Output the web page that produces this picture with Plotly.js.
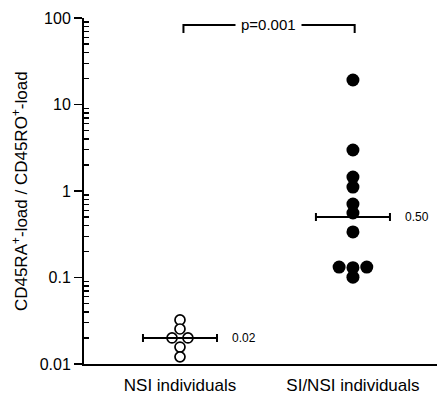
<!DOCTYPE html>
<html>
<head>
<meta charset="utf-8">
<script src="https://cdn.plot.ly/plotly-3.0.1.min.js"></script>
<style>html,body{margin:0;padding:0;background:#fff;}</style>
</head>
<body>
<div id="chart" style="width:438px;height:401px;"></div>
<script>
// Categories
var categories = ['NSI individuals', 'SI/NSI individuals'];
// NSI individuals (open circles)
var nsiValues = [0.0323, 0.0254, 0.020, 0.020, 0.0157, 0.0121];
var nsiJitter = [0, 0, -0.046, 0.046, 0, 0];
// SI/NSI individuals (filled circles)
var siValues = [19.2, 2.98, 1.45, 1.11, 0.707, 0.557, 0.336, 0.132, 0.130, 0.132, 0.101];
var siJitter = [0, 0, 0, 0, 0, 0, 0, -0.08, 0, 0.08, 0];
// Geometric means
var meanValues = [0.02, 0.50];
var meanLabels = ['0.02', '0.50'];
var pLabel = 'p=0.001';
var yTickVals = [0.01, 0.1, 1, 10, 100];
var yTickText = ['0.01', '0.1', '1', '10', '100'];

// minor tick positions (2..9 within each decade)
var minorVals = [];
[0.01, 0.1, 1, 10].forEach(function(d){ for (var k = 2; k <= 9; k++) minorVals.push(d * k); });

var font = 'Arial, "Liberation Sans", Helvetica, sans-serif';

var traces = [
  {
    x: nsiValues.map(function(v, i){ return 0 + nsiJitter[i]; }),
    y: nsiValues,
    mode: 'markers', type: 'scatter',
    marker: {symbol: 'circle', size: 10, color: 'white', line: {color: 'black', width: 1.7}},
    cliponaxis: false, hoverinfo: 'skip'
  },
  {
    x: siValues.map(function(v, i){ return 1 + siJitter[i]; }),
    y: siValues,
    mode: 'markers', type: 'scatter',
    marker: {symbol: 'circle', size: 13, color: 'black'},
    cliponaxis: false, hoverinfo: 'skip'
  },
  {
    x: [0, 1],
    y: meanValues,
    mode: 'markers', type: 'scatter',
    marker: {size: 1, color: 'rgba(0,0,0,0)'},
    error_x: {type: 'constant', value: 0.214, width: 4, thickness: 2, color: 'black'},
    cliponaxis: false, hoverinfo: 'skip'
  }
];

var layout = {
  width: 438, height: 401,
  margin: {l: 84, r: 1, t: 18, b: 37},
  paper_bgcolor: 'white', plot_bgcolor: 'white',
  showlegend: false,
  font: {family: font, color: 'black', size: 16},
  xaxis: {
    range: [-0.555, 1.486],
    tickmode: 'array', tickvals: [0, 1], ticktext: categories,
    ticks: '', showgrid: false, zeroline: false,
    showline: true, linecolor: 'black', linewidth: 1.8,
    tickfont: {size: 17, family: font, color: 'black'},
    ticklabelstandoff: 5
  },
  yaxis: {
    type: 'log', range: [-2, 2],
    tickmode: 'array', tickvals: yTickVals, ticktext: yTickText,
    ticks: 'outside', ticklen: 8, tickwidth: 1.5, tickcolor: 'black',
    minor: {tickmode: 'array', tickvals: minorVals, ticks: 'inside', ticklen: 5, tickwidth: 1.3, tickcolor: 'black', showgrid: false},
    showgrid: false, zeroline: false,
    showline: true, linecolor: 'black', linewidth: 2,
    tickfont: {size: 16, family: font, color: 'black'}
  },
  shapes: [
    {type: 'path', xref: 'x', yref: 'paper',
     path: 'M 0.02,0.957 L 0.02,0.98 L 1.01,0.98 L 1.01,0.957',
     line: {color: 'black', width: 2}}
  ],
  annotations: [
    {xref: 'x', yref: 'y', x: 0.29, y: Math.log10(meanValues[0]), text: meanLabels[0],
     showarrow: false, xanchor: 'left', yanchor: 'middle', font: {size: 12, family: font, color: 'black'}},
    {xref: 'x', yref: 'y', x: 1.29, y: Math.log10(meanValues[1]), text: meanLabels[1],
     showarrow: false, xanchor: 'left', yanchor: 'middle', font: {size: 12, family: font, color: 'black'}},
    {xref: 'x', yref: 'paper', x: 0.51, y: 0.98, text: pLabel,
     showarrow: false, xanchor: 'center', yanchor: 'middle', bgcolor: 'white', borderpad: 5,
     font: {size: 15, family: font, color: 'black'}},
    {xref: 'paper', yref: 'paper', x: -0.181, y: 0.5, text: 'CD45RA<sup>+</sup>-load / CD45RO<sup>+</sup>-load',
     textangle: -90, showarrow: false, xanchor: 'center', yanchor: 'middle',
     font: {size: 17, family: font, color: 'black'}}
  ]
};

Plotly.newPlot('chart', traces, layout, {staticPlot: true, displayModeBar: false});
</script>
</body>
</html>
